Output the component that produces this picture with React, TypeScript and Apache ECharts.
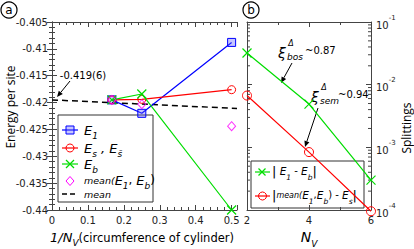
import React, { useEffect, useRef } from 'react';
import * as echarts from 'echarts';

// ---------- data ----------
const nvA = [6, 4, 2];
const e1 = [-0.4195, -0.422, -0.4088];
const es = [-0.4195, -0.4194, -0.4176];
const eb = [-0.4195, -0.4184, -0.44];
const meanE1Eb = [-0.4195, -0.4203, -0.4244];
const meanFitX = [0, 0.515];
const meanFitY = [-0.4195, -0.4211];

const nvB = [2, 4, 6];
const splitE1Eb = [0.032, 0.0049, 0.0003];
const splitMeanEs = [0.0067, 0.00084, 0.0000955];

const F = 'DejaVu Sans';
const AX = '#444';

function arrow(x1: number, y1: number, x2: number, y2: number) {
  const a = Math.atan2(y2 - y1, x2 - x1);
  const L = 6, W = 2.6;
  const bx = x2 - L * Math.cos(a), by = y2 - L * Math.sin(a);
  const px = -Math.sin(a) * W, py = Math.cos(a) * W;
  return [
    { type: 'line', shape: { x1, y1, x2: bx, y2: by }, style: { stroke: '#000', lineWidth: 1 } },
    { type: 'polygon', shape: { points: [[x2, y2], [bx + px, by + py], [bx - px, by - py]] }, style: { fill: '#000' } },
  ];
}

const mkRich = (LH: number, eSize: number, sSize: number, mSize: number, nSize: number, bSize: number): any => ({
  e: { fontFamily: F, fontStyle: 'italic', fontSize: eSize, lineHeight: LH, verticalAlign: 'top', color: '#000' },
  s: { fontFamily: F, fontStyle: 'italic', fontSize: sSize, lineHeight: LH, verticalAlign: 'bottom', color: '#000' },
  m: { fontFamily: F, fontStyle: 'italic', fontSize: mSize, lineHeight: LH, verticalAlign: 'top', color: '#000', padding: [2, 0, 0, 0] },
  n: { fontFamily: F, fontSize: nSize, lineHeight: LH, verticalAlign: 'top', color: '#000' },
  b: { fontFamily: F, fontSize: bSize, lineHeight: LH, verticalAlign: 'top', color: '#000' },
});
const richA = mkRich(17, 13, 9, 9.5, 12, 14);
const richB = mkRich(16, 10.5, 7.5, 8, 10, 13);

function rtext(x: number, y: number, text: string, rich: any) {
  return { type: 'text', x, y, style: { text, rich, align: 'left', verticalAlign: 'middle' } };
}

function App() {
  const ref = useRef<HTMLDivElement>(null);
  useEffect(() => {
    if (!ref.current) return;
    const chart = echarts.init(ref.current, null, { renderer: 'svg' });
    const xA = nvA.map((n) => 1 / n);
    const pair = (ys: number[]) => xA.map((x, i) => [x, ys[i]]);
    const pairB = (ys: number[]) => nvB.map((x, i) => [x, ys[i]]);

    const minorVals: number[] = [];
    for (let k = -4; k <= -2; k++) for (let m = 2; m <= 9; m++) minorVals.push(m * Math.pow(10, k));

    const tickStyle = { inside: true, length: 5, lineStyle: { color: AX } };
    const lineAx = { lineStyle: { color: AX, width: 1 } };
    const lbl = { fontFamily: F, fontSize: 10, color: '#222' };

    const legendA: any[] = [
      { type: 'rect', shape: { x: 58, y: 115, width: 95, height: 87 }, style: { fill: '#fff', stroke: '#333', lineWidth: 1 } },
      // E1
      { type: 'line', shape: { x1: 62, y1: 130, x2: 78, y2: 130 }, style: { stroke: '#0000ff', lineWidth: 1.2 } },
      { type: 'rect', shape: { x: 66, y: 126, width: 8, height: 8 }, style: { fill: 'rgba(90,90,255,0.35)', stroke: '#0000ff', lineWidth: 1 } },
      rtext(84, 132, '{e|E}{s|1}', richA),
      // Es
      { type: 'line', shape: { x1: 62, y1: 148, x2: 78, y2: 148 }, style: { stroke: '#ff0000', lineWidth: 1.2 } },
      { type: 'circle', shape: { cx: 70, cy: 148, r: 4 }, style: { fill: 'none', stroke: '#ff0000', lineWidth: 1 } },
      rtext(84, 150, '{e|E}{s|s}{e| , E}{s|s\u0304}', richA),
      // Eb
      { type: 'line', shape: { x1: 62, y1: 164, x2: 78, y2: 164 }, style: { stroke: '#00dd00', lineWidth: 1.2 } },
      { type: 'line', shape: { x1: 66, y1: 160, x2: 74, y2: 168 }, style: { stroke: '#00dd00', lineWidth: 1.2 } },
      { type: 'line', shape: { x1: 66, y1: 168, x2: 74, y2: 160 }, style: { stroke: '#00dd00', lineWidth: 1.2 } },
      rtext(84, 166, '{e|E}{s|b}', richA),
      // mean(E1,Eb)
      { type: 'polygon', shape: { points: [[70, 176.5], [74, 181], [70, 185.5], [66, 181]] }, style: { fill: 'none', stroke: '#ff00ff', lineWidth: 1 } },
      rtext(84, 182, '{m|mean(}{e|E}{s|1}{n|, }{e|E}{s|b}{n|)}', richA),
      // mean
      { type: 'line', shape: { x1: 62, y1: 194, x2: 78, y2: 194 }, style: { stroke: '#000', lineWidth: 1.6, lineDash: [5, 3] } },
      { type: 'text', x: 84, y: 194, style: { text: 'mean', fontFamily: F, fontStyle: 'italic', fontSize: 9.5, verticalAlign: 'middle', fill: '#000' } },
    ];

    const legendB: any[] = [
      { type: 'rect', shape: { x: 251, y: 161, width: 113, height: 47 }, style: { fill: '#fff', stroke: '#333', lineWidth: 1 } },
      { type: 'line', shape: { x1: 255, y1: 172, x2: 270, y2: 172 }, style: { stroke: '#00dd00', lineWidth: 1.2 } },
      { type: 'line', shape: { x1: 258.5, y1: 168.5, x2: 265.5, y2: 175.5 }, style: { stroke: '#00dd00', lineWidth: 1.2 } },
      { type: 'line', shape: { x1: 258.5, y1: 175.5, x2: 265.5, y2: 168.5 }, style: { stroke: '#00dd00', lineWidth: 1.2 } },
      rtext(272, 173, '{b||}{e| E}{s|1}{n| - }{e|E}{s|b}{b||}', richB),
      { type: 'line', shape: { x1: 255, y1: 196, x2: 270, y2: 196 }, style: { stroke: '#ff0000', lineWidth: 1.2 } },
      { type: 'circle', shape: { cx: 262.5, cy: 196, r: 4 }, style: { fill: 'none', stroke: '#ff0000', lineWidth: 1 } },
      rtext(272, 197, '{b||}{m|mean(}{e|E}{s|1}{n|,}{e|E}{s|b}{n|) - }{e|E}{s|s}{b||}', richB),
    ];

    const xi = (x: number, y: number, sub: string, val: string) => [
      { type: 'text', x, y, style: { text: '\u03be', fontFamily: F, fontStyle: 'italic', fontSize: 14, align: 'center', verticalAlign: 'middle', fill: '#000' } },
      { type: 'text', x: x + 9, y: y - 10, style: { text: '\u0394', fontFamily: F, fontStyle: 'italic', fontSize: 8, align: 'center', verticalAlign: 'middle', fill: '#000' } },
      { type: 'text', x: x + 5, y: y + 4, style: { text: sub, fontFamily: F, fontStyle: 'italic', fontSize: 9, align: 'left', verticalAlign: 'middle', fill: '#000' } },
      { type: 'text', x: x + 23, y: y - 3, style: { text: val, fontFamily: F, fontSize: 10, align: 'left', verticalAlign: 'middle', fill: '#000' } },
    ];

    const graphics: any[] = [
      // panel labels
      { type: 'circle', shape: { cx: 9, cy: 10, r: 8 }, style: { fill: 'none', stroke: '#000', lineWidth: 1.2 } },
      { type: 'text', x: 9, y: 9.5, style: { text: 'a', fontFamily: F, fontSize: 12, align: 'center', verticalAlign: 'middle', fill: '#000' } },
      { type: 'circle', shape: { cx: 251, cy: 10, r: 8 }, style: { fill: 'none', stroke: '#000', lineWidth: 1.2 } },
      { type: 'text', x: 251, y: 9.5, style: { text: 'b', fontFamily: F, fontSize: 12, align: 'center', verticalAlign: 'middle', fill: '#000' } },
      // axis titles
      { type: 'text', x: 10, y: 107, rotation: Math.PI / 2, style: { text: 'Energy per site', fontFamily: 'Open Sans', fontSize: 12, align: 'center', verticalAlign: 'middle', fill: '#000' } },
      { type: 'text', x: 406, y: 128, rotation: Math.PI / 2, style: { text: 'Splittings', fontFamily: 'Open Sans', fontSize: 12, align: 'center', verticalAlign: 'middle', fill: '#000' } },
      { type: 'text', x: 142, y: 239, style: {
        text: '{i|1/N}{v|V}{n|(circumference of cylinder)}', align: 'center', verticalAlign: 'middle',
        rich: {
          i: { fontFamily: F, fontStyle: 'italic', fontSize: 13, lineHeight: 17, verticalAlign: 'top', color: '#000' },
          v: { fontFamily: F, fontStyle: 'italic', fontSize: 9, lineHeight: 17, verticalAlign: 'bottom', color: '#000' },
          n: { fontFamily: F, fontSize: 11.5, lineHeight: 17, verticalAlign: 'top', color: '#000', padding: [1, 0, 0, 0] },
        } } },
      { type: 'text', x: 309, y: 239, style: {
        text: '{i|N}{v|V}', align: 'center', verticalAlign: 'middle',
        rich: {
          i: { fontFamily: F, fontStyle: 'italic', fontSize: 14, lineHeight: 18, verticalAlign: 'top', color: '#000' },
          v: { fontFamily: F, fontStyle: 'italic', fontSize: 9, lineHeight: 18, verticalAlign: 'bottom', color: '#000' },
        } } },
      // annotation a
      { type: 'text', x: 83, y: 75, style: { text: '-0.419(6)', fontFamily: F, fontSize: 10, align: 'center', verticalAlign: 'middle', fill: '#000' } },
      ...arrow(70, 81, 57, 97),
      // annotation b
      ...xi(282, 53, 'bos', '~0.87'),
      ...arrow(292, 63, 281, 83),
      ...xi(315, 97, 'sem', '~0.94'),
      ...arrow(318, 108, 305, 147),
      ...legendA,
      ...legendB,
    ];

    const option: any = {
      animation: false,
      backgroundColor: '#fff',
      grid: [
        { left: 52, top: 22, width: 185, height: 188 },
        { left: 247, top: 22, width: 124, height: 188 },
      ],
      xAxis: [
        { gridIndex: 0, type: 'value', min: 0, max: 0.515, interval: 0.1, position: 'bottom',
          axisLine: lineAx, axisTick: tickStyle, minorTick: { show: true, splitNumber: 5, length: 3, lineStyle: { color: AX } },
          splitLine: { show: false },
          axisLabel: { ...lbl, margin: 5, formatter: (v: number) => (Math.abs(v * 10 - Math.round(v * 10)) < 1e-6 ? String(+v.toFixed(1)) : '') } },
        { gridIndex: 0, type: 'value', min: 0, max: 0.515, interval: 0.1, position: 'top',
          axisLine: lineAx, axisTick: tickStyle, minorTick: { show: true, splitNumber: 5, length: 3, lineStyle: { color: AX } },
          splitLine: { show: false }, axisLabel: { show: false } },
        { gridIndex: 1, type: 'value', min: 2, max: 6, interval: 2, position: 'bottom',
          axisLine: lineAx, axisTick: tickStyle, minorTick: { show: true, splitNumber: 2, length: 3, lineStyle: { color: AX } },
          splitLine: { show: false }, axisLabel: { ...lbl, margin: 5 } },
        { gridIndex: 1, type: 'value', min: 2, max: 6, interval: 2, position: 'top',
          axisLine: lineAx, axisTick: tickStyle, minorTick: { show: true, splitNumber: 2, length: 3, lineStyle: { color: AX } },
          splitLine: { show: false }, axisLabel: { show: false } },
      ],
      yAxis: [
        { gridIndex: 0, type: 'value', min: -0.44, max: -0.405, interval: 0.005, position: 'left',
          axisLine: lineAx, axisTick: tickStyle, minorTick: { show: true, splitNumber: 5, length: 3, lineStyle: { color: AX } },
          splitLine: { show: false }, axisLabel: { ...lbl, margin: 4 } },
        { gridIndex: 0, type: 'value', min: -0.44, max: -0.405, interval: 0.005, position: 'right',
          axisLine: lineAx, axisTick: tickStyle, minorTick: { show: true, splitNumber: 5, length: 3, lineStyle: { color: AX } },
          splitLine: { show: false }, axisLabel: { show: false } },
        { gridIndex: 1, type: 'log', logBase: 10, min: 1e-4, max: 1e-1, position: 'right',
          axisLine: lineAx, axisTick: tickStyle, splitLine: { show: false },
          axisLabel: { margin: 5, formatter: (v: number) => `{b|10}{s|${Math.round(Math.log10(v))}}`,
            rich: {
              b: { fontFamily: F, fontSize: 10, lineHeight: 16, verticalAlign: 'bottom', color: '#222' },
              s: { fontFamily: F, fontSize: 7, lineHeight: 8, verticalAlign: 'top', color: '#222' },
            } } },
        { gridIndex: 1, type: 'log', logBase: 10, min: 1e-4, max: 1e-1, position: 'left',
          axisLine: lineAx, axisTick: tickStyle, splitLine: { show: false }, axisLabel: { show: false } },
      ],
      graphic: graphics,
      series: [
        { type: 'line', xAxisIndex: 0, yAxisIndex: 0, data: meanFitX.map((x, i) => [x, meanFitY[i]]), showSymbol: false, symbol: 'none',
          lineStyle: { color: '#000', width: 1.5, type: [6, 4] }, z: 3 },
        { type: 'line', xAxisIndex: 0, yAxisIndex: 0, data: pair(e1), symbol: 'rect', symbolSize: 8, clip: false,
          lineStyle: { color: '#0000ff', width: 1.2 }, itemStyle: { color: 'rgba(90,90,255,0.35)', borderColor: '#0000ff', borderWidth: 1 }, z: 4 },
        { type: 'line', xAxisIndex: 0, yAxisIndex: 0, data: pair(es), symbol: 'circle', symbolSize: 8, clip: false,
          lineStyle: { color: '#ff0000', width: 1.2 }, itemStyle: { color: 'rgba(255,255,255,0)', borderColor: '#ff0000', borderWidth: 1 }, z: 4 },
        { type: 'line', xAxisIndex: 0, yAxisIndex: 0, data: pair(eb), symbol: 'path://M0,0L10,10M10,0L0,10', symbolSize: 9, clip: false,
          lineStyle: { color: '#00dd00', width: 1.2 }, itemStyle: { color: 'rgba(0,0,0,0)', borderColor: '#00dd00', borderWidth: 1.2 }, z: 5 },
        { type: 'scatter', xAxisIndex: 0, yAxisIndex: 0, data: pair(meanE1Eb), symbol: 'diamond', symbolSize: [8, 9], clip: false,
          itemStyle: { color: 'rgba(255,255,255,0)', borderColor: '#ff00ff', borderWidth: 1 }, z: 5 },
        { type: 'line', xAxisIndex: 2, yAxisIndex: 2, data: pairB(splitE1Eb), symbol: 'path://M0,0L10,10M10,0L0,10', symbolSize: 9, clip: false,
          lineStyle: { color: '#00dd00', width: 1.2 }, itemStyle: { color: 'rgba(0,0,0,0)', borderColor: '#00dd00', borderWidth: 1.2 }, z: 5 },
        { type: 'line', xAxisIndex: 2, yAxisIndex: 2, data: pairB(splitMeanEs), symbol: 'circle', symbolSize: 9, clip: false,
          lineStyle: { color: '#ff0000', width: 1.2 }, itemStyle: { color: 'rgba(255,255,255,0)', borderColor: '#ff0000', borderWidth: 1 }, z: 5 },
        { type: 'custom', xAxisIndex: 2, yAxisIndex: 2, silent: true, clip: false, z: 3,
          data: minorVals.map((v) => [2, v]),
          renderItem: (_p: any, api: any) => {
            const v = api.value(1);
            const l = api.coord([2, v]);
            const r = api.coord([6, v]);
            return { type: 'group', children: [
              { type: 'line', shape: { x1: l[0], y1: l[1], x2: l[0] + 3, y2: l[1] }, style: { stroke: AX, lineWidth: 1 } },
              { type: 'line', shape: { x1: r[0] - 3, y1: r[1], x2: r[0], y2: r[1] }, style: { stroke: AX, lineWidth: 1 } },
            ] };
          } },
      ],
    };
    chart.setOption(option);
    return () => chart.dispose();
  }, []);
  return <div ref={ref} style={{ width: 414, height: 249, position: 'absolute', left: 0, top: 0 }} />;
}

export default App;
